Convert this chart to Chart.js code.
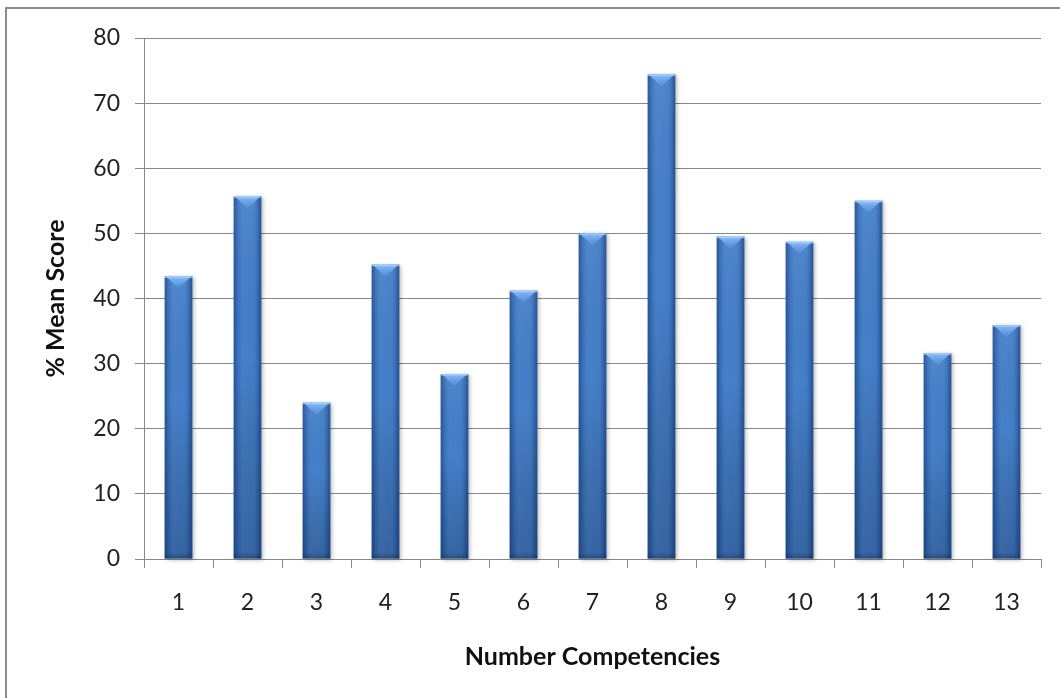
<!DOCTYPE html>
<html>
<head>
<meta charset="utf-8">
<script src="https://cdn.jsdelivr.net/npm/chart.js@4/dist/chart.umd.min.js"></script>
<style>
  html, body { margin: 0; padding: 0; background: #ffffff; }
  #wrap { position: relative; width: 1060px; height: 698px; }
</style>
</head>
<body>
<div id="wrap"><canvas id="c" width="1060" height="698"></canvas></div>
<script>
// Competency numbers and their mean scores (%)
const categories = ['1', '2', '3', '4', '5', '6', '7', '8', '9', '10', '11', '12', '13'];
const meanScores = [43.4, 55.7, 24.0, 45.2, 28.4, 41.2, 50.0, 74.4, 49.5, 48.7, 55.0, 31.6, 35.9];
const yTicks = [0, 10, 20, 30, 40, 50, 60, 70, 80];

const GRID = '#888888';
const FONT = 'Lato, "Open Sans", sans-serif';

// White page with a grey frame running off the right and bottom edges
const framePlugin = {
  id: 'frame',
  beforeDraw(chart) {
    const ctx = chart.ctx;
    ctx.save();
    ctx.fillStyle = '#ffffff';
    ctx.fillRect(0, 0, chart.width, chart.height);
    ctx.strokeStyle = '#8c8c8c';
    ctx.lineWidth = 2;
    ctx.strokeRect(6, 8, chart.width + 40, chart.height + 40);
    ctx.restore();
  }
};

// Shading on each bar: drop shadow, rounded-column lighting and a bevelled top
const bevelPlugin = {
  id: 'bevel',
  beforeDatasetDraw(chart, args) {
    const ctx = chart.ctx;
    const meta = args.meta;
    ctx.save();
    meta.data.forEach(el => {
      const p = el.getProps(['x', 'y', 'base', 'width'], true);
      const l = p.x - p.width / 2;
      ctx.shadowColor = 'rgba(0,0,0,0.28)';
      ctx.shadowBlur = 4;
      ctx.shadowOffsetX = 2;
      ctx.shadowOffsetY = 1;
      ctx.fillStyle = '#3c79c6';
      ctx.fillRect(l, p.y, p.width, p.base - p.y);
    });
    ctx.restore();
  },
  afterDatasetDraw(chart, args) {
    const ctx = chart.ctx;
    const meta = args.meta;
    ctx.save();
    meta.data.forEach(el => {
      const p = el.getProps(['x', 'y', 'base', 'width'], true);
      const l = p.x - p.width / 2, r = p.x + p.width / 2;
      const t = p.y, b = p.base, h = b - t;

      // darker towards the foot of the column
      const vg = ctx.createLinearGradient(0, t, 0, b);
      vg.addColorStop(0, 'rgba(255,255,255,0.06)');
      vg.addColorStop(0.45, 'rgba(0,0,0,0)');
      vg.addColorStop(1, 'rgba(10,30,70,0.30)');
      ctx.fillStyle = vg;
      ctx.fillRect(l, t, p.width, h);

      // darker side edges, lighter centre
      const hg = ctx.createLinearGradient(l, 0, r, 0);
      hg.addColorStop(0, 'rgba(15,40,90,0.45)');
      hg.addColorStop(0.14, 'rgba(15,40,90,0.12)');
      hg.addColorStop(0.35, 'rgba(255,255,255,0.06)');
      hg.addColorStop(0.65, 'rgba(255,255,255,0.04)');
      hg.addColorStop(0.86, 'rgba(15,40,90,0.14)');
      hg.addColorStop(1, 'rgba(15,40,90,0.5)');
      ctx.fillStyle = hg;
      ctx.fillRect(l, t, p.width, h);

      // dark band along the base
      const bb = Math.min(6, h / 3);
      const bg = ctx.createLinearGradient(0, b - bb, 0, b);
      bg.addColorStop(0, 'rgba(10,30,70,0)');
      bg.addColorStop(1, 'rgba(10,30,70,0.35)');
      ctx.fillStyle = bg;
      ctx.fillRect(l, b - bb, p.width, bb);

      // bevelled top: light wedge pointing down
      const bh = Math.min(12, h / 2);
      const tg = ctx.createLinearGradient(0, t, 0, t + bh);
      tg.addColorStop(0, 'rgba(140,195,255,0.95)');
      tg.addColorStop(1, 'rgba(90,150,225,0.5)');
      ctx.beginPath();
      ctx.moveTo(l + 1, t);
      ctx.lineTo(r - 1, t);
      ctx.lineTo(p.x, t + bh);
      ctx.closePath();
      ctx.fillStyle = tg;
      ctx.fill();

      // thin highlight on the top edge
      ctx.fillStyle = 'rgba(170,210,255,0.8)';
      ctx.fillRect(l, t, p.width, 1.5);
    });
    ctx.restore();
  }
};

new Chart(document.getElementById('c'), {
  type: 'bar',
  data: {
    labels: categories,
    datasets: [{
      label: '% Mean Score',
      data: meanScores,
      backgroundColor: 'rgba(0,0,0,0)',
      borderWidth: 0,
      barPercentage: 0.4,
      categoryPercentage: 1.0
    }]
  },
  options: {
    responsive: false,
    animation: false,
    devicePixelRatio: 1,
    layout: { padding: { left: 0, top: 38, right: 19, bottom: 0 } },
    plugins: {
      legend: { display: false },
      tooltip: { enabled: false }
    },
    scales: {
      x: {
        grid: {
          offset: true,
          drawOnChartArea: false,
          drawTicks: true,
          tickLength: 9,
          color: GRID,
          lineWidth: 1
        },
        border: { color: GRID, width: 1 },
        ticks: {
          color: '#222222',
          padding: 21,
          font: { family: FONT, size: 23 },
          maxRotation: 0
        },
        title: {
          display: true,
          text: 'Number Competencies',
          color: '#111111',
          font: { family: FONT, size: 25, weight: 'bold' },
          padding: { top: 0, bottom: 26 }
        },
        afterFit(scale) { scale.height = 139; }
      },
      y: {
        min: 0,
        max: 80,
        afterBuildTicks(scale) { scale.ticks = yTicks.map(v => ({ value: v })); },
        grid: {
          drawTicks: true,
          tickLength: 9,
          color: GRID,
          lineWidth: 1
        },
        border: { color: GRID, width: 1 },
        ticks: {
          color: '#222222',
          padding: 15,
          font: { family: FONT, size: 23 }
        },
        title: {
          display: true,
          text: '% Mean Score',
          color: '#111111',
          font: { family: FONT, size: 25, weight: 'bold' },
          padding: { top: 41, bottom: 0 }
        },
        afterFit(scale) { scale.width = 144; }
      }
    }
  },
  plugins: [framePlugin, bevelPlugin]
});
</script>
</body>
</html>
